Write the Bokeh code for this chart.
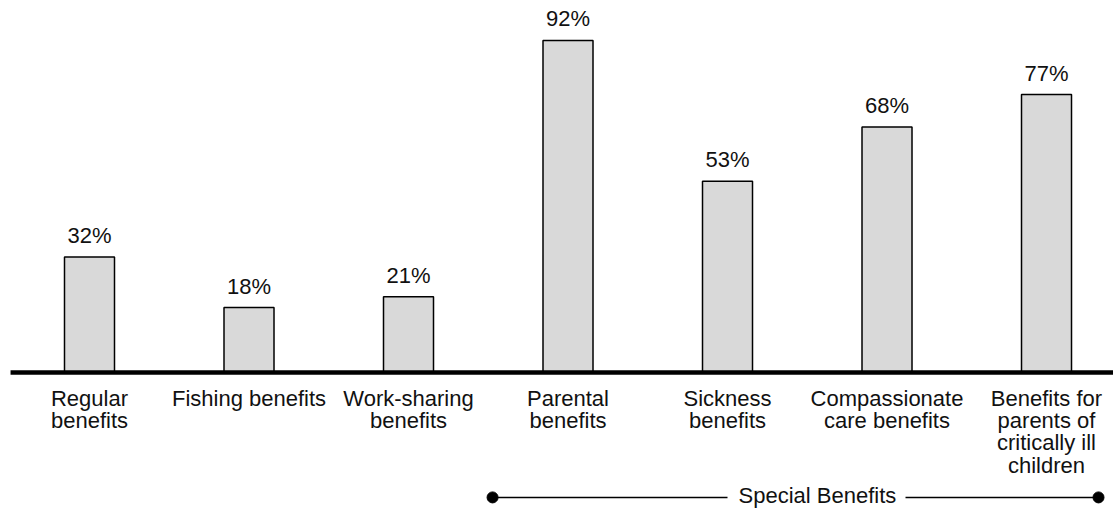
from bokeh.plotting import figure
from bokeh.models import Range1d, ColumnDataSource
from bokeh.core.properties import value
from bokeh.embed import file_html
from bokeh.resources import INLINE

categories = ["Regular\nbenefits", "Fishing benefits", "Work-sharing\nbenefits",
              "Parental\nbenefits", "Sickness\nbenefits", "Compassionate\ncare benefits",
              "Benefits for\nparents of\ncritically ill\nchildren"]
values = [32, 18, 21, 92, 53, 68, 77]
value_labels = ["32%", "18%", "21%", "92%", "53%", "68%", "77%"]
group_label = "Special Benefits"
group_start, group_end = 3, 6

FONT = value("Liberation Sans")
FS = "22px"
x = list(range(len(categories)))
src = ColumnDataSource(dict(x=x, top=values, cat=categories, lab=value_labels))

XR = (-0.558, 6.42)
p = figure(width=1113, height=508, output_backend="svg", toolbar_location=None,
           x_range=Range1d(*XR), y_range=Range1d(-37.67, 103.05),
           min_border=0, min_border_left=0, min_border_right=0,
           min_border_top=0, min_border_bottom=0)
p.axis.visible = False
p.grid.visible = False
p.outline_line_color = None

p.vbar(x="x", top="top", bottom=0, width=0.3135, source=src,
       fill_color="#d9d9d9", line_color="black", line_width=1.5)

p.text(x="x", y="top", text="lab", source=src, text_align="center",
       text_baseline="bottom", y_offset=-9, text_font=FONT,
       text_font_size=FS, text_color="#111111")

p.text(x="x", y=0, text="cat", source=src, text_align="center",
       text_baseline="top", y_offset=13, text_font=FONT,
       text_font_size=FS, text_color="#111111", text_line_height=0.895)

# baseline
p.segment(x0=[-0.495], y0=[0], x1=[XR[1]], y1=[0], line_color="black", line_width=4.5)

# bracket for special benefits
lx = group_start - 0.473
rx = group_end + 0.326
tx = 4.564
yb = -34.6
p.segment(x0=[lx, tx + 0.552], y0=[yb, yb], x1=[tx - 0.564, rx], y1=[yb, yb],
          line_color="black", line_width=1.5)
p.scatter(x=[lx, rx], y=[yb, yb], size=11, fill_color="black", line_color="black")
p.text(x=[tx], y=[-34.0], text=[group_label], text_align="center",
       text_baseline="middle", text_font=FONT, text_font_size=FS,
       text_color="#111111")

open("out.html", "w").write(file_html(p, INLINE))
